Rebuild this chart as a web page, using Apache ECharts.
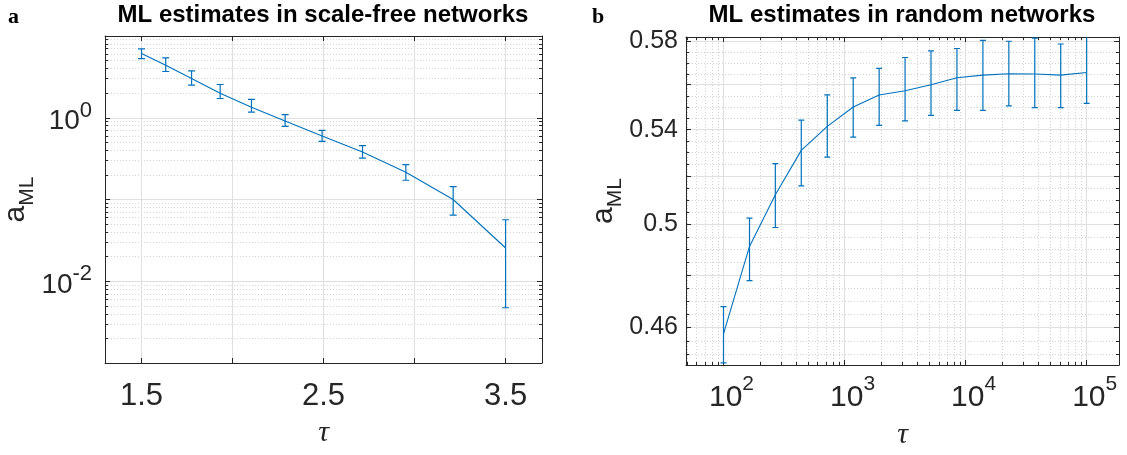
<!DOCTYPE html>
<html>
<head>
<meta charset="utf-8">
<script src="https://cdn.jsdelivr.net/npm/echarts@6/dist/echarts.min.js"></script>
<style>
  html, body { margin: 0; padding: 0; background: #fff; }
  #chart { width: 1127px; height: 455px; }
</style>
</head>
<body>
<div id="chart"></div>
<script>
// panel a: scale-free networks
const tauSF = [1.5, 1.633, 1.775, 1.932, 2.104, 2.289, 2.492, 2.714, 2.952, 3.212, 3.5];
const aSF = [6.10, 4.40, 3.02, 1.99, 1.34, 0.91, 0.598, 0.382, 0.216, 0.100, 0.0255];
const aSFLow = [5.30, 3.68, 2.51, 1.72, 1.17, 0.785, 0.515, 0.320, 0.172, 0.0645, 0.00474];
const aSFHigh = [6.94, 5.39, 3.74, 2.55, 1.68, 1.09, 0.702, 0.456, 0.267, 0.144, 0.0565];

// panel b: random networks
const tauRN = [100, 164, 268, 439, 720, 1179, 1931, 3162, 5179, 8483, 13895, 22758, 37276, 61054, 100000];
const aRN = [0.4576, 0.4912, 0.5122, 0.5310, 0.5414, 0.5500, 0.5554, 0.5573, 0.5600, 0.5632, 0.5644, 0.5650, 0.5649, 0.5644, 0.5656];
const aRNLow = [0.4470, 0.4778, 0.4988, 0.5159, 0.5281, 0.5367, 0.5419, 0.5438, 0.5463, 0.5485, 0.5485, 0.5505, 0.5497, 0.5497, 0.5516];
const aRNHigh = [0.4678, 0.5026, 0.5253, 0.5442, 0.5554, 0.5631, 0.5675, 0.5725, 0.5756, 0.5767, 0.5805, 0.5801, 0.5816, 0.5788, 0.5825];

// ticks and labels
const sfXTicks = [1.5, 2, 2.5, 3, 3.5];
const sfXLabels = [1.5, 2.5, 3.5];
const sfYTicks = [0.001, 0.01, 0.1, 1, 10];
const sfYLabels = [0.01, 1];
const rnXTicks = [100, 1000, 10000, 100000];
const rnXLabels = [100, 1000, 10000, 100000];
const rnYTicks = [0.46, 0.48, 0.5, 0.52, 0.54, 0.56, 0.58];
const rnYLabels = [0.46, 0.5, 0.54, 0.58];

const BLUE = '#0072BD';
const AX = '#262626';
const SANS = '"Liberation Sans", Arial, Helvetica, sans-serif';
const SERIF = '"Liberation Serif", "Times New Roman", serif';

// minor ticks 2..9 x 10^k inside [lo, hi]
function minorLog(lo, hi) {
  const out = [];
  for (let e = Math.floor(Math.log10(lo)); e <= Math.ceil(Math.log10(hi)); e++) {
    for (let m = 2; m <= 9; m++) {
      const v = +(m * Math.pow(10, e)).toPrecision(6);
      if (v >= lo && v <= hi) out.push(v);
    }
  }
  return out;
}
function minorStep(lo, hi, step, major) {
  const out = [];
  for (let v = lo; v <= hi + 1e-9; v += step) {
    const r = +v.toFixed(4);
    if (!major.some(m => Math.abs(m - r) < 1e-6)) out.push(r);
  }
  return out;
}

const powFmt = v => '{b|10}{s|' + Math.round(Math.log10(v)) + '}';
const nameRich = {
  a: { fontFamily: SANS, fontSize: 30, color: AX },
  s: { fontFamily: SANS, fontSize: 21, color: AX, padding: [22, 0, 0, 0] }
};

function makeAxes(dim, gridIndex, c) {
  const pos = dim === 'x' ? ['bottom', 'top'] : ['left', 'right'];
  const base = { gridIndex, type: c.type, min: c.min, max: c.max, logBase: 10, silent: true };
  const tickStyle = { color: AX, width: 1 };
  const list = [{
    ...base,
    position: pos[0],
    name: c.name,
    nameLocation: 'middle',
    nameGap: c.nameGap,
    nameRotate: dim === 'y' ? 90 : 0,
    nameTextStyle: c.nameStyle,
    axisLine: { show: true, lineStyle: { color: AX, width: 1 } },
    axisTick: { show: true, inside: true, length: 5, customValues: c.major, lineStyle: tickStyle },
    axisLabel: {
      show: true, customValues: c.labels, formatter: c.fmt, margin: c.margin,
      fontFamily: SANS, fontSize: c.fontSize, color: AX, rich: c.rich
    },
    splitLine: { show: true, lineStyle: { color: '#dfdfdf', width: 1 } }
  }];
  if (c.minor.length) {
    list.push({
      ...base, position: pos[0],
      axisLine: { show: false },
      axisTick: { show: true, inside: true, length: 3, customValues: c.minor, lineStyle: tickStyle },
      axisLabel: { show: false },
      splitLine: { show: true, lineStyle: { color: '#d2d2d2', width: 1, type: [1, 2] } }
    });
  }
  list.push({
    ...base, position: pos[1],
    axisLine: { show: true, lineStyle: { color: AX, width: 1 } },
    axisTick: { show: true, inside: true, length: 5, customValues: c.major, lineStyle: tickStyle },
    axisLabel: { show: false },
    splitLine: { show: false }
  });
  if (c.minor.length) {
    list.push({
      ...base, position: pos[1],
      axisLine: { show: false },
      axisTick: { show: true, inside: true, length: 3, customValues: c.minor, lineStyle: tickStyle },
      axisLabel: { show: false },
      splitLine: { show: false }
    });
  }
  return list;
}

const tauStyle = { fontFamily: SERIF, fontStyle: 'italic', fontSize: 30, color: AX };
const yNameStyle = { rich: nameRich };

const xA = makeAxes('x', 0, {
  type: 'value', min: 1.3, max: 3.7, major: sfXTicks, minor: [], labels: sfXLabels,
  fmt: v => String(v), margin: 18, fontSize: 31, name: 'τ', nameGap: 55, nameStyle: tauStyle
});
const yA = makeAxes('y', 0, {
  type: 'log', min: 0.001, max: 10, major: sfYTicks, minor: minorLog(0.001, 10), labels: sfYLabels,
  fmt: powFmt, margin: 13, fontSize: 28, name: '{a|a}{s|ML}', nameGap: 56, nameStyle: yNameStyle,
  rich: {
    b: { fontFamily: SANS, fontSize: 28, color: AX, verticalAlign: 'bottom' },
    s: { fontFamily: SANS, fontSize: 22, color: AX, verticalAlign: 'bottom', padding: [0, 0, 14, 0] }
  }
});
const xB = makeAxes('x', 1, {
  type: 'log', min: 49, max: 185000, major: rnXTicks, minor: minorLog(49, 185000), labels: rnXLabels,
  fmt: powFmt, margin: 9, fontSize: 30, name: 'τ', nameGap: 55, nameStyle: tauStyle,
  rich: {
    b: { fontFamily: SANS, fontSize: 30, color: AX, verticalAlign: 'bottom', padding: [0, 0, 0, 16] },
    s: { fontFamily: SANS, fontSize: 21, color: AX, verticalAlign: 'bottom', padding: [0, 0, 18, 0] }
  }
});
const yB = makeAxes('y', 1, {
  type: 'log', min: 0.4462, max: 0.5821, major: rnYTicks, minor: minorStep(0.45, 0.58, 0.005, rnYTicks),
  labels: rnYLabels, fmt: v => String(+v.toFixed(2)), margin: 8, fontSize: 25,
  name: '{a|a}{s|ML}', nameGap: 60, nameStyle: yNameStyle
});

const xAxis = [...xA, ...xB];
const yAxis = [...yA, ...yB];
const xIdxB = xA.length;
const yIdxB = yA.length;

// vertical bar with caps, drawn as one path
function errorBars(cap) {
  return function (params, api) {
    const x = api.value(0);
    const lo = api.coord([x, api.value(1)]);
    const hi = api.coord([x, api.value(2)]);
    const px = lo[0];
    return {
      type: 'polyline',
      shape: {
        points: [
          [px - cap, lo[1]], [px + cap, lo[1]], [px, lo[1]],
          [px, hi[1]], [px - cap, hi[1]], [px + cap, hi[1]]
        ]
      },
      style: { stroke: BLUE, fill: null, lineWidth: 1.2, opacity: 1 }
    };
  };
}

const lineSeries = (xi, yi, xs, ys) => ({
  type: 'line', xAxisIndex: xi, yAxisIndex: yi,
  data: xs.map((t, i) => [t, ys[i]]),
  symbol: 'none', showSymbol: false, silent: true, z: 3,
  lineStyle: { color: BLUE, width: 1.1 }, itemStyle: { color: BLUE }
});
const barSeries = (xi, yi, xs, lo, hi, cap) => ({
  type: 'custom', xAxisIndex: xi, yAxisIndex: yi, clip: true, silent: true, z: 4,
  itemStyle: { color: BLUE },
  data: xs.map((t, i) => [t, lo[i], hi[i]]),
  encode: { x: 0, y: [1, 2] },
  renderItem: errorBars(cap)
});

const chart = echarts.init(document.getElementById('chart'), null, { renderer: 'canvas' });
chart.setOption({
  animation: false,
  backgroundColor: '#fff',
  grid: [
    { left: 105, top: 36, width: 437, height: 327 },
    { left: 686, top: 37, width: 433, height: 328 }
  ],
  xAxis,
  yAxis,
  graphic: [
    { type: 'text', x: 8, y: 6, style: { text: 'a', font: 'bold 22px ' + SERIF, fill: '#000' } },
    { type: 'text', x: 592, y: 6, style: { text: 'b', font: 'bold 22px ' + SERIF, fill: '#000' } },
    { type: 'text', x: 323, y: 3, style: { text: 'ML estimates in scale-free networks', font: 'bold 24px ' + SANS, fill: '#000', textAlign: 'center', align: 'center' } },
    { type: 'text', x: 902, y: 3, style: { text: 'ML estimates in random networks', font: 'bold 24px ' + SANS, fill: '#000', textAlign: 'center', align: 'center' } }
  ],
  series: [
    lineSeries(0, 0, tauSF, aSF),
    barSeries(0, 0, tauSF, aSFLow, aSFHigh, 3.5),
    lineSeries(xIdxB, yIdxB, tauRN, aRN),
    barSeries(xIdxB, yIdxB, tauRN, aRNLow, aRNHigh, 3)
  ]
});

window.addEventListener('resize', () => chart.resize());
</script>
</body>
</html>
